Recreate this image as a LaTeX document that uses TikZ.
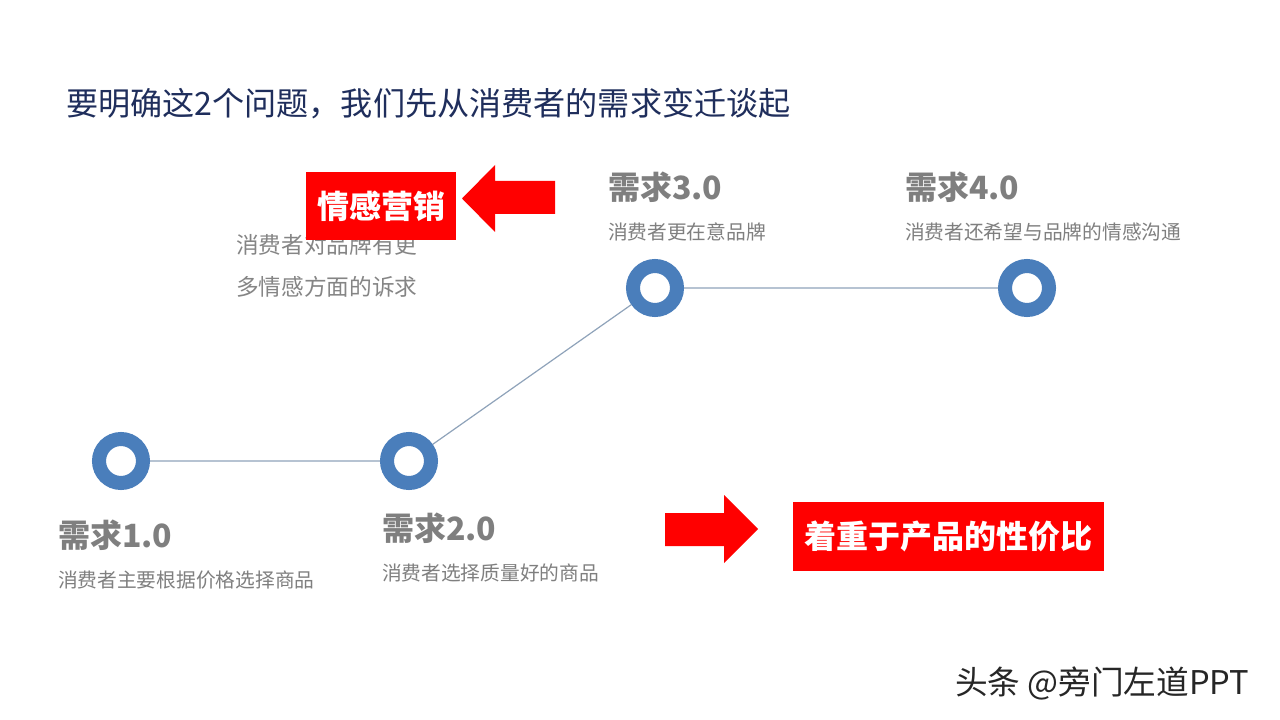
\documentclass[tikz,border=0pt]{standalone}
\usepackage{fontspec}
\setmainfont{Noto Sans CJK SC}
\usepackage{xcolor}
\usetikzlibrary{positioning}
\definecolor{titlenavy}{HTML}{1F2E5C}
\definecolor{labelgray}{HTML}{7F7F7F}
\definecolor{notegray}{HTML}{858585}
\definecolor{ringblue}{HTML}{4A7EBB}
\definecolor{linkgray}{HTML}{8FA3BA}
\definecolor{markred}{HTML}{FF0000}

\begin{document}
\begin{tikzpicture}[x=0.75pt,y=-0.75pt,
  every node/.style={inner sep=0pt,outer sep=0pt},
  ring/.style={circle,draw=ringblue,fill=white,line width=10.5pt,minimum size=33pt,outer sep=5.25pt},
  link/.style={draw=linkgray,line width=0.9pt},
  heading/.style={anchor=west,text=labelgray,font=\fontsize{24}{28}\selectfont\bfseries},
  detail/.style={anchor=west,text=labelgray,font=\fontsize{14.8}{18}\selectfont},
  redbox/.style={fill=markred,text=white,font=\fontsize{24}{28}\selectfont\bfseries}]
  \useasboundingbox[fill=white] (0,0) rectangle (1280,720);

  \node[anchor=west,text=titlenavy,font=\fontsize{24.1}{29}\selectfont] (title) at (66,104)
    {要明确这2个问题，我们先从消费者的需求变迁谈起};

  % timeline
  \foreach \n/\x/\y in {1/121/461,2/409/461,3/655/288,4/1027/288}{
    \node[ring] (r\n) at (\x,\y) {};
  }
  \draw[link] (r1) -- (r2) -- (r3) -- (r4);

  \foreach \n/\x/\y in {1/58/535,2/382/528,3/608/187,4/905/187}{
    \node[heading] (h\n) at (\x,\y) {需求\n.0};
  }
  \foreach \n/\x/\y/\t in {1/58/580/消费者主要根据价格选择商品,2/382/573/消费者选择质量好的商品,
      3/608/232/消费者更在意品牌,4/905/232/消费者还希望与品牌的情感沟通}{
    \node[detail] (d\n) at (\x,\y) {\t};
  }

  % emotion marketing
  \node[anchor=west,align=left,text=notegray,font=\fontsize{17}{31.5}\selectfont] (note) at (236,266)
    {消费者对品牌有更\\多情感方面的诉求};
  \node[redbox,minimum width=112.5pt,minimum height=51pt] (emo) at (381,206) {情感营销};
  \fill[markred] (555,181) -- (495,181) -- (495,165) -- (462,198.5) -- (495,232)
    -- (495,214) -- (555,214) -- cycle;

  % value for money
  \fill[markred] (665,513) -- (724,513) -- (724,495) -- (758,529) -- (724,563)
    -- (724,546) -- (665,546) -- cycle;
  \node[redbox,minimum width=233.25pt,minimum height=51.75pt] (value) at (948.5,536.5) {着重于产品的性价比};

  \node[anchor=west,text=black!85,font=\fontsize{24.5}{29}\selectfont] (mark) at (955,683) {头条 @旁门左道PPT};
\end{tikzpicture}
\end{document}
